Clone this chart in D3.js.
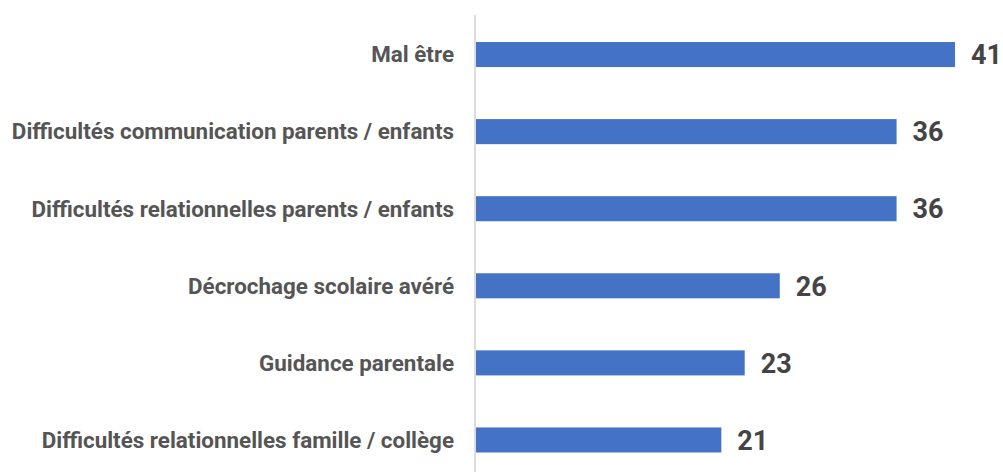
<!DOCTYPE html>
<html><head><meta charset="utf-8">
<script src="https://cdn.jsdelivr.net/npm/d3@7"></script>
<style>body{margin:0;background:#fff}svg{display:block}</style>
</head><body>
<svg id="c" width="1003" height="472"></svg>
<script>
const categories = ["Mal être","Difficultés communication parents / enfants","Difficultés relationnelles parents / enfants","Décrochage scolaire avéré","Guidance parentale","Difficultés relationnelles famille / collège"];
const values = [41,36,36,26,23,21];

const svg = d3.select("#c");
const y = d3.scaleBand().domain(categories).range([16, 478.5]).paddingInner(0.675).paddingOuter(0.3375);
const x = d3.scaleLinear().domain([0, 41]).range([476, 955]);

svg.append("line").attr("x1",475).attr("x2",475).attr("y1",15).attr("y2",472)
  .attr("stroke","#d0d0d0").attr("stroke-width",1.5);

svg.selectAll("rect.bar").data(values).join("rect").attr("class","bar")
  .attr("x", x(0)).attr("y",(d,i)=>y(categories[i]))
  .attr("width", d=>x(d)-x(0)).attr("height", y.bandwidth())
  .attr("fill","#4472C4");

svg.selectAll("text.cat").data(categories).join("text").attr("class","cat")
  .attr("x",454).attr("y",d=>y(d)+y.bandwidth()/2).attr("dy","0.35em")
  .attr("text-anchor","end").attr("font-family","Roboto, sans-serif")
  .attr("font-weight","bold").attr("font-size",22.4).attr("fill","#555")
  .text(d=>d);

svg.selectAll("text.val").data(values).join("text").attr("class","val")
  .attr("x",d=>x(d)+16).attr("y",(d,i)=>y(categories[i])+y.bandwidth()/2).attr("dy","0.36em")
  .attr("font-family","Roboto, sans-serif").attr("font-weight","bold")
  .attr("font-size",27).attr("fill","#444").text(d=>d);
</script>
</body></html>
